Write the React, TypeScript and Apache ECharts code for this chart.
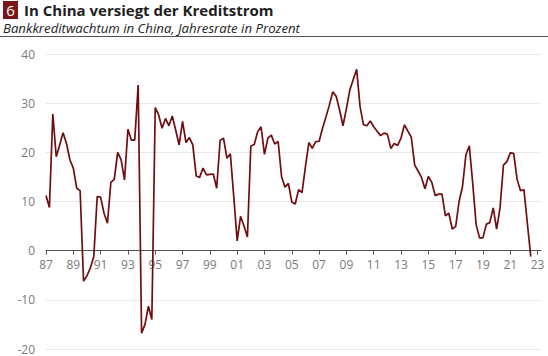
import React, { useEffect, useRef } from "react";
import * as echarts from "echarts";

const START_YEAR = 1987;
// Quarterly values, 1987 Q1 .. 2022 Q3 (annual growth rate, %)
const y1987_1994 = [
  11.2, 8.8, 27.8, 19.1,
  21.5, 24.0, 21.8, 18.5,
  16.8, 12.7, 12.2, -6.2,
  -5.1, -3.5, -1.2, 11.0,
  10.9, 7.6, 5.6, 13.9,
  14.5, 20.0, 18.5, 14.4,
  24.7, 22.5, 22.5, 33.7,
  -16.8, -15.0, -11.3, -14.0,
];
const y1995_2002 = [
  29.1, 27.6, 24.9, 26.9,
  25.4, 27.4, 24.5, 21.5,
  26.3, 22.0, 23.0, 21.5,
  15.2, 14.9, 16.8, 15.4,
  15.5, 15.6, 12.7, 22.4,
  22.9, 18.8, 19.7, 11.0,
  2.0, 7.0, 5.0, 2.8,
  21.3, 21.6, 24.2, 25.2,
];
const y2003_2010 = [
  19.6, 22.9, 23.5, 21.7,
  22.2, 15.1, 12.9, 13.7,
  9.9, 9.5, 12.4, 11.8,
  17.1, 22.0, 20.8, 22.2,
  22.2, 24.9, 27.2, 29.6,
  32.3, 31.4, 28.6, 25.4,
  28.9, 32.7, 34.8, 36.9,
  29.3, 25.6, 25.4, 26.4,
];
const y2011_2018 = [
  25.2, 24.3, 23.4, 23.9,
  23.7, 20.8, 21.8, 21.4,
  22.9, 25.6, 24.3, 23.1,
  17.4, 16.2, 14.9, 12.6,
  15.1, 13.9, 11.2, 11.5,
  11.5, 7.1, 7.6, 4.4,
  4.9, 10.0, 13.0, 19.5,
  21.3, 13.7, 5.3, 2.6,
];
const y2019_2022 = [
  2.6, 5.4, 5.7, 8.7,
  4.4, 8.7, 17.4, 18.1,
  19.9, 19.8, 14.5, 12.2,
  12.4, 5.6, -1.2,
];
const values = [...y1987_1994, ...y1995_2002, ...y2003_2010, ...y2011_2018, ...y2019_2022];
const yTicks = [-20, -10, 0, 10, 20, 30, 40];

const TITLE = "In China versiegt der Kreditstrom";
const SUBTITLE = "Bankkreditwachtum in China, Jahresrate in Prozent";
const NUMBER = "6";

const W = 548;
const H = 356;
const GRID = { left: 46, right: 7, top: 54, bottom: 7 };

export default function App() {
  const ref = useRef<HTMLDivElement>(null);
  useEffect(() => {
    if (!ref.current) return;
    const chart = echarts.init(ref.current, null, { renderer: "svg" });
    const data = values.map((v, i) => [i / 4, v]);
    const font = "'Open Sans', 'Noto Sans', sans-serif";
    const yMin = yTicks[0];
    const yMax = yTicks[yTicks.length - 1];
    const gridH = H - GRID.top - GRID.bottom;
    // move the x axis from the grid's bottom up to the zero line
    const zeroOffset = -gridH * (0 - yMin) / (yMax - yMin);
    chart.setOption({
      animation: false,
      backgroundColor: "#ffffff",
      grid: { ...GRID, containLabel: false, outerBoundsMode: "none" },
      xAxis: {
        type: "value",
        min: 0,
        max: 36.25,
        interval: 2,
        offset: zeroOffset,
        axisLine: { show: true, onZero: false, lineStyle: { color: "#555555", width: 1 } },
        axisTick: { show: true, inside: false, length: 4, lineStyle: { color: "#555555" } },
        splitLine: { show: false },
        axisLabel: {
          color: "#7a7a7a",
          fontSize: 12,
          fontFamily: font,
          margin: 8,
          showMaxLabel: false,
          formatter: (v: number) =>
            Number.isInteger(v) ? String((START_YEAR + v) % 100).padStart(2, "0") : "",
        },
      },
      yAxis: {
        type: "value",
        min: yMin,
        max: yMax,
        interval: 10,
        axisLine: { show: false, onZero: false },
        axisTick: { show: false },
        splitLine: { show: true, lineStyle: { color: "#e8e8e8", width: 1 } },
        axisLabel: { color: "#7a7a7a", fontSize: 12, fontFamily: font, margin: 11 },
      },
      series: [
        {
          type: "line",
          data,
          symbol: "none",
          lineStyle: { color: "#710d10", width: 1.7 },
          z: 3,
        },
      ],
      graphic: [
        { type: "rect", left: 3, top: 1, shape: { width: 15, height: 18 }, style: { fill: "#7b1518" } },
        {
          type: "text",
          x: 10.5,
          y: 10,
          style: { text: NUMBER, fill: "#ffffff", font: `15px ${font}`, align: "center", verticalAlign: "middle" },
        },
        {
          type: "text",
          x: 24,
          y: 10,
          style: { text: TITLE, fill: "#1e1e1e", font: `bold 15px ${font}`, verticalAlign: "middle" },
        },
        {
          type: "text",
          x: 3,
          y: 28,
          style: { text: SUBTITLE, fill: "#222222", font: `italic 13.2px ${font}`, verticalAlign: "middle" },
        },
        {
          type: "line",
          shape: { x1: 0, y1: 36.5, x2: W, y2: 36.5 },
          style: { stroke: "#555555", lineWidth: 1 },
        },
      ],
    });
    return () => chart.dispose();
  }, []);
  return (
    <div
      ref={ref}
      style={{ position: "fixed", left: 0, top: 0, width: W, height: H }}
    />
  );
}
